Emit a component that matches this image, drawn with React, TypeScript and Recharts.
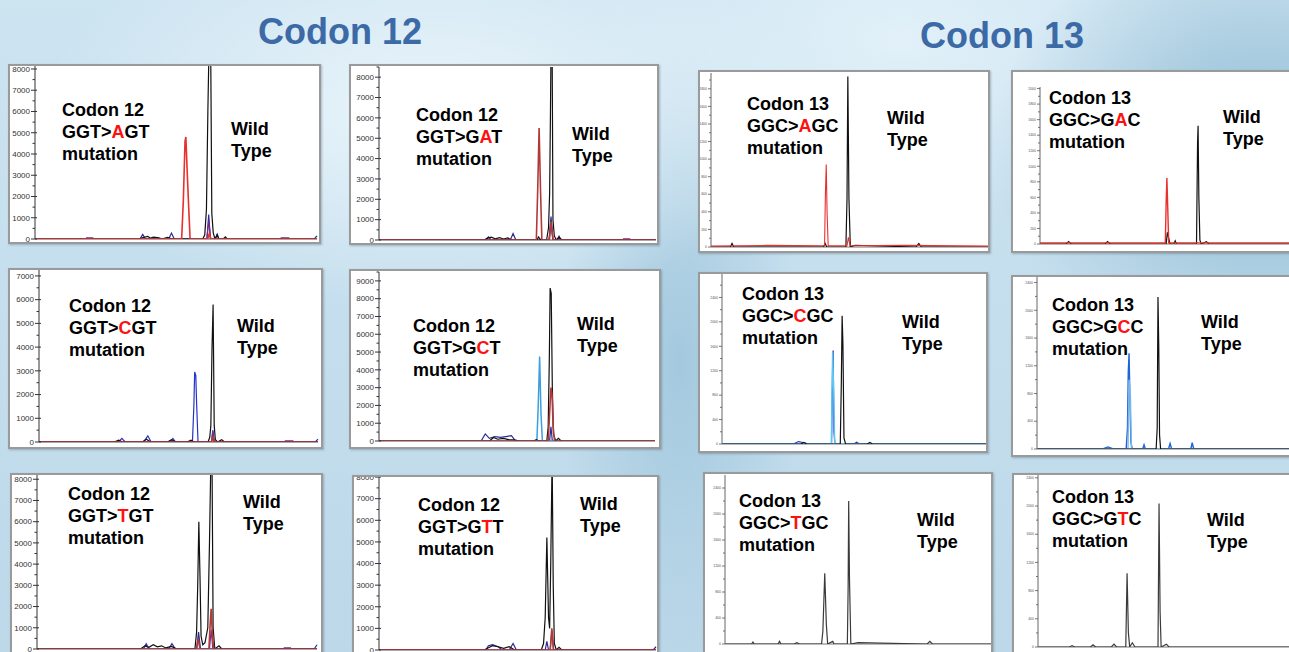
import React from 'react';
import { LineChart, Line, XAxis, YAxis, ReferenceLine } from 'recharts';

type Pt = [number, number];

// x = percent of run width, y = signal (RFU)

// Codon 12 GGT>AGT
const agtBlack: Pt[] = [[0,0],[37,0],[38,60],[40,120],[41,40],[42,90],[44,60],[45,0],[47,80],[48,30],[50,0],[59.5,0],[60.2,200],[60.8,1400],[61.3,6000],[61.7,9000],[62.3,9000],[62.7,1200],[63.2,300],[63.8,0],[64.6,200],[65.2,0],[66.8,0],[67.5,100],[68.2,0],[100,0]];
const agtRed: Pt[] = [[0,0],[52,0],[52.6,1800],[53.2,4600],[53.5,4800],[53.9,3400],[54.4,1800],[55,0],[61.2,0],[61.8,250],[62.4,0],[100,0]];
const agtBlue: Pt[] = [[0,0],[37.2,0],[38.2,220],[39.2,0],[47.4,0],[48.4,280],[49.4,0],[61,0],[61.6,1150],[62.2,0],[64,0],[64.6,220],[65.2,0],[99,0],[100,150]];
const agtPurple: Pt[] = [[0,0],[18,0],[18.3,60],[20.5,60],[20.8,0],[60.9,0],[61.6,850],[62.3,0],[87,0],[87.3,60],[90,60],[90.3,0],[100,0]];

// Codon 12 GGT>GAT
const gatBlack: Pt[] = [[0,0],[38,0],[39,80],[40.5,140],[42,60],[43.5,120],[45,50],[46.5,100],[48,0],[57,0],[57.6,150],[58.4,0],[60.5,0],[61.2,600],[61.6,2300],[61.9,6300],[62.1,9500],[62.5,9500],[62.8,1000],[63.3,200],[64,0],[65,150],[66,0],[100,0]];
const gatRed: Pt[] = [[0,0],[56.8,0],[57.3,2500],[57.8,5500],[58.3,2500],[58.8,0],[61.5,0],[62.1,900],[62.8,0],[100,0]];
const gatBlue: Pt[] = [[0,0],[38.5,0],[39.5,150],[40.5,0],[47.4,0],[48.4,320],[49.4,0],[61.4,0],[62.1,1150],[62.8,0],[64.5,0],[65,180],[65.5,0],[100,0]];
const gatPurple: Pt[] = [[0,0],[61.4,0],[62.1,900],[62.8,0],[88,0],[88.3,60],[90.5,60],[90.8,0],[100,0]];

// Codon 12 GGT>CGT
const cgtBlack: Pt[] = [[0,0],[27,0],[28.5,80],[30,0],[37,0],[38.5,120],[40,0],[46,0],[47.5,100],[49,0],[53,0],[54.5,80],[55.5,0],[60.6,0],[61.2,200],[61.6,700],[62,3900],[62.4,5800],[62.8,700],[63.2,100],[64,0],[65.5,100],[66.5,0],[100,0]];
const cgtBlue: Pt[] = [[0,0],[28.5,0],[29.7,150],[30.9,0],[37.5,0],[39,260],[40.2,0],[47,0],[48,150],[49,0],[55,0],[55.5,1500],[55.8,2950],[56.2,2800],[56.5,1600],[57,0],[61.8,0],[62.3,500],[62.8,0],[99,0],[100,120]];
const cgtRed: Pt[] = [[0,0],[61.8,0],[62.3,250],[62.8,0],[100,0]];
const cgtPurple: Pt[] = [[0,0],[61.9,0],[62.3,450],[62.7,0],[88,0],[88.3,50],[91,50],[91.3,0],[100,0]];

// Codon 12 GGT>GCT
const gctBlack: Pt[] = [[0,0],[40,0],[41.5,200],[43,100],[45,150],[47,80],[49,60],[51,0],[56,0],[57,80],[58,0],[60.8,0],[61.3,800],[61.7,4500],[62,8600],[62.4,8300],[62.8,3000],[63.2,400],[64,0],[65,150],[66,0],[100,0]];
const gctLightBlue: Pt[] = [[0,0],[57.2,0],[57.7,2000],[58.2,4750],[58.7,1500],[59.2,0],[100,0]];
const gctRed: Pt[] = [[0,0],[61.3,0],[61.8,1500],[62.3,3000],[62.7,2600],[63.1,800],[63.6,0],[100,0]];
const gctNavy: Pt[] = [[0,0],[37,0],[38.5,400],[40,150],[42,250],[44,200],[46,250],[48,300],[49.5,0],[61.8,0],[62.3,800],[62.8,0],[100,0]];

// Codon 12 GGT>TGT
const tgtBlack: Pt[] = [[0,0],[37,0],[38.5,150],[40,80],[41.5,200],[43,100],[44.5,150],[46,50],[48,120],[50,0],[56.4,0],[57,800],[57.4,3000],[57.8,6000],[58.2,3500],[58.6,600],[59.2,200],[60,300],[61,1000],[61.6,5000],[62.1,9000],[62.5,9000],[62.9,1000],[63.5,0],[65,150],[66,0],[100,0]];
const tgtRed: Pt[] = [[0,0],[57,0],[57.6,500],[58.2,0],[61.4,0],[61.9,1300],[62.2,1900],[62.6,800],[63.1,0],[100,0]];
const tgtBlue: Pt[] = [[0,0],[38,0],[39,250],[40,0],[47,0],[48.2,250],[49.4,0],[57,0],[57.7,800],[58.4,0],[99,0],[100,200]];
const tgtPurple: Pt[] = [[0,0],[61.6,0],[62.2,900],[62.8,0],[88,0],[88.3,60],[90.5,60],[90.8,0],[100,0]];

// Codon 12 GGT>GTT
const gttBlack: Pt[] = [[0,0],[38,0],[39.5,100],[41,200],[43,150],[45,80],[47,150],[49,0],[58.6,0],[59.4,300],[60,1500],[60.6,5200],[61.2,1500],[61.6,1000],[62,4000],[62.5,9000],[62.9,3000],[63.3,300],[64,0],[65,120],[66,0],[100,0]];
const gttRed: Pt[] = [[0,0],[61.8,0],[62.4,1000],[63,0],[100,0]];
const gttBlue: Pt[] = [[0,0],[38.5,0],[39.5,200],[41,250],[43,150],[44.5,0],[47,0],[48.4,300],[49.6,0],[60,0],[60.6,400],[61.2,0],[99,0],[100,150]];
const gttPurple: Pt[] = [[0,0],[61.8,0],[62.4,900],[63,0],[100,0]];

// Codon 13 GGC>AGC
const agcBlack: Pt[] = [[0,0],[7,0],[7.6,40],[8.2,0],[40.6,0],[41.2,40],[41.8,0],[48.7,0],[49.1,550],[49.4,1940],[49.8,550],[50.3,0],[52,20],[74,0],[75,40],[76,0],[100,0]];
const agcRed: Pt[] = [[0,12],[20,18],[41,15],[41.3,600],[41.6,940],[41.9,400],[42.3,15],[49.1,15],[49.6,110],[50.2,15],[70,18],[100,12]];

// Codon 13 GGC>GAC
const gacBlack: Pt[] = [[0,0],[10,0],[11,30],[12,0],[25,0],[26,30],[27,0],[48.5,0],[49,150],[49.6,60],[50,0],[51.5,0],[52,40],[52.5,0],[60.2,0],[60.6,1300],[60.8,1520],[61.1,600],[61.5,50],[62,0],[64,30],[65,0],[100,0]];
const gacRed: Pt[] = [[0,15],[48.2,15],[48.5,500],[48.8,850],[49.1,500],[49.5,15],[100,15]];

// Codon 13 GGC>CGC
const cgcBlack: Pt[] = [[0,0],[30,0],[31,25],[32,0],[44.8,0],[45.2,1000],[45.5,2100],[45.8,1650],[46.2,100],[46.8,0],[55,0],[56,25],[57,0],[100,0]];
const cgcBlue: Pt[] = [[0,0],[27,0],[29,40],[31,20],[33,0],[41.5,0],[41.9,1300],[42.1,1530],[42.4,200],[42.8,0],[50,0],[51,30],[52,0],[100,0]];
const cgcCyan: Pt[] = [[0,0],[41.4,0],[41.9,1500],[42.3,900],[42.7,0],[100,0]];

// Codon 13 GGC>GCC
const gccBlue: Pt[] = [[0,0],[25,0],[27,30],[29,0],[33.9,0],[34.4,300],[34.7,1100],[35,1380],[35.3,800],[35.7,100],[36.2,0],[40.2,0],[40.7,60],[41.2,0],[50,0],[50.6,80],[51.2,0],[58.5,0],[59,90],[59.6,0],[100,0]];
const gccLightBlue: Pt[] = [[0,0],[34.6,0],[35,1000],[35.5,800],[35.9,0],[100,0]];
const gccBlack: Pt[] = [[0,0],[45.3,0],[45.7,300],[46,2190],[46.3,1470],[46.6,200],[47,0],[100,0]];

// Codon 13 GGC>TGC
const tgcGrey: Pt[] = [[0,0],[10,0],[10.5,30],[11,0],[20,0],[20.5,40],[21,0],[26,0],[27,20],[28,0],[36.3,0],[36.8,200],[37.5,1090],[38.1,300],[38.6,0],[40.5,40],[41,0],[46,0],[46.3,900],[46.5,2200],[46.8,1000],[47.3,0],[50,20],[76,0],[77,40],[78,0],[100,0]];

// Codon 13 GGC>GTC
const gtcGrey: Pt[] = [[0,0],[12,0],[13,20],[14,0],[20,0],[21,30],[22,0],[28,0],[29,40],[30,0],[33.5,0],[34,1046],[34.5,200],[35,0],[36,60],[37,0],[45.8,0],[46.2,2035],[46.6,500],[47,0],[49,40],[50,0],[100,0]];

// y tick values
const ticks7000 = [0,500,1000,1500,2000,2500,3000,3500,4000,4500,5000,5500,6000,6500,7000];
const ticks8000 = [0,500,1000,1500,2000,2500,3000,3500,4000,4500,5000,5500,6000,6500,7000,7500,8000];
const ticks8500 = [...ticks8000, 8500];
const ticks9500 = [...ticks8000, 8500, 9000, 9500];
const ticks1900 = [0,100,200,300,400,500,600,700,800,900,1000,1100,1200,1300,1400,1500,1600,1700,1800,1900];
const ticks2000 = [...ticks1900, 2000];
const ticks2400 = [0,200,400,600,800,1000,1200,1400,1600,1800,2000,2200,2400];
const ticks2800 = [...ticks2400, 2600, 2800];

// mutation labels
const mutations = [
  { codon: 'Codon 12', pre: 'GGT>', alt: 'A', post: 'GT' },
  { codon: 'Codon 12', pre: 'GGT>G', alt: 'A', post: 'T' },
  { codon: 'Codon 12', pre: 'GGT>', alt: 'C', post: 'GT' },
  { codon: 'Codon 12', pre: 'GGT>G', alt: 'C', post: 'T' },
  { codon: 'Codon 12', pre: 'GGT>', alt: 'T', post: 'GT' },
  { codon: 'Codon 12', pre: 'GGT>G', alt: 'T', post: 'T' },
  { codon: 'Codon 13', pre: 'GGC>', alt: 'A', post: 'GC' },
  { codon: 'Codon 13', pre: 'GGC>G', alt: 'A', post: 'C' },
  { codon: 'Codon 13', pre: 'GGC>', alt: 'C', post: 'GC' },
  { codon: 'Codon 13', pre: 'GGC>G', alt: 'C', post: 'C' },
  { codon: 'Codon 13', pre: 'GGC>', alt: 'T', post: 'GC' },
  { codon: 'Codon 13', pre: 'GGC>G', alt: 'T', post: 'C' },
];

const BLACK = '#111';
const RED = '#e8302c';
const DARKRED = '#b03a3a';
const BLUE = '#2233c8';
const NAVY = '#2a2a9a';
const PURPLE = '#7a2a8a';
const LIGHTBLUE = '#3c9ee0';
const CYAN = '#5cc8f2';
const GREY = '#3a3a3a';

interface Series { pts: Pt[]; color: string; w?: number }
interface PanelCfg {
  box: [number, number, number, number];
  plot: [number, number, number, number];
  yMax: number;
  ticks: number[];
  major: number;
  small: boolean;
  series: Series[];
  text: [number, number];
  wild: [number, number];
}

const panels: PanelCfg[] = [
  { box: [8,64,321,244], plot: [35,66,317,239], yMax: 8140, ticks: ticks8000, major: 1000, small: false,
    series: [{ pts: agtBlue, color: NAVY }, { pts: agtPurple, color: PURPLE }, { pts: agtBlack, color: BLACK }, { pts: agtRed, color: RED, w: 1.6 }],
    text: [62,103], wild: [231,122] },
  { box: [349,64,659,245], plot: [379,67,656,240], yMax: 8500, ticks: ticks8500, major: 1000, small: false,
    series: [{ pts: gatBlue, color: NAVY }, { pts: gatPurple, color: PURPLE }, { pts: gatBlack, color: BLACK }, { pts: gatRed, color: DARKRED, w: 1.6 }],
    text: [416,108], wild: [572,127] },
  { box: [8,268,323,449], plot: [39,270,318,442], yMax: 7250, ticks: ticks7000, major: 1000, small: false,
    series: [{ pts: cgtBlue, color: BLUE }, { pts: cgtPurple, color: PURPLE }, { pts: cgtBlack, color: BLACK }, { pts: cgtRed, color: DARKRED, w: 1.6 }],
    text: [69,299], wild: [237,319] },
  { box: [349,269,661,449], plot: [379,272,655,441], yMax: 9500, ticks: ticks9500, major: 1000, small: false,
    series: [{ pts: gctNavy, color: NAVY }, { pts: gctLightBlue, color: LIGHTBLUE, w: 1.5 }, { pts: gctBlack, color: BLACK }, { pts: gctRed, color: DARKRED, w: 1.6 }],
    text: [413,319], wild: [577,317] },
  { box: [10,473,323,660], plot: [37,475,317,649], yMax: 8200, ticks: ticks8000, major: 1000, small: false,
    series: [{ pts: tgtBlue, color: NAVY }, { pts: tgtPurple, color: PURPLE }, { pts: tgtBlack, color: BLACK }, { pts: tgtRed, color: DARKRED, w: 1.6 }],
    text: [68,487], wild: [243,495] },
  { box: [352,475,659,660], plot: [379,476,656,650], yMax: 8050, ticks: ticks8000, major: 1000, small: false,
    series: [{ pts: gttBlue, color: NAVY }, { pts: gttPurple, color: PURPLE }, { pts: gttBlack, color: BLACK }, { pts: gttRed, color: DARKRED, w: 1.6 }],
    text: [418,498], wild: [580,497] },
  { box: [698,70,990,253], plot: [711,73,988,247], yMax: 1980, ticks: ticks1900, major: 200, small: true,
    series: [{ pts: agcBlack, color: BLACK }, { pts: agcRed, color: RED, w: 1.1 }],
    text: [747,97], wild: [887,111] },
  { box: [1011,70,1303,253], plot: [1040,87,1300,244], yMax: 2020, ticks: ticks2000, major: 200, small: true,
    series: [{ pts: gacBlack, color: BLACK }, { pts: gacRed, color: RED, w: 1.4 }],
    text: [1049,91], wild: [1223,110] },
  { box: [698,272,988,453], plot: [722,273,986,444], yMax: 2800, ticks: ticks2800, major: 400, small: true,
    series: [{ pts: cgcBlue, color: BLUE }, { pts: cgcCyan, color: CYAN, w: 1.4 }, { pts: cgcBlack, color: BLACK }],
    text: [742,287], wild: [902,315] },
  { box: [1011,275,1303,457], plot: [1037,277,1300,449], yMax: 2480, ticks: ticks2400, major: 400, small: true,
    series: [{ pts: gccBlue, color: '#1e64d8', w: 1.4 }, { pts: gccLightBlue, color: '#7ab8ec', w: 1.4 }, { pts: gccBlack, color: BLACK }],
    text: [1052,298], wild: [1201,315] },
  { box: [703,472,993,660], plot: [725,475,991,644], yMax: 2600, ticks: ticks2400, major: 400, small: true,
    series: [{ pts: tgcGrey, color: GREY, w: 1.2 }],
    text: [739,494], wild: [917,513] },
  { box: [1012,473,1303,660], plot: [1038,475,1300,647], yMax: 2440, ticks: ticks2400, major: 400, small: true,
    series: [{ pts: gtcGrey, color: GREY, w: 1.2 }],
    text: [1052,490], wild: [1207,513] },
];

const FONT = '"Liberation Sans", Arial, sans-serif';

function makeTick(axisX: number, major: number, small: boolean) {
  return (props: any) => {
    const { y, payload } = props;
    const v = payload.value as number;
    const isMajor = v % major === 0;
    const col = small ? '#555' : '#333';
    return (
      <g>
        <line x1={axisX - (isMajor ? (small ? 3 : 4) : (small ? 2 : 2.5))} x2={axisX + (isMajor && !small ? 2 : 0)} y1={y} y2={y} stroke={col} strokeWidth={small ? 0.8 : 1} />
        {isMajor && (
          <text x={axisX - (small ? 4 : 5)} y={y} dy="0.35em" textAnchor="end" fontSize={small ? 3.5 : 8} fill={col} fontFamily={FONT}>
            {v}
          </text>
        )}
      </g>
    );
  };
}

function Panel({ cfg }: { cfg: PanelCfg }) {
  const [bl, bt, br, bb] = cfg.box;
  const [pl, pt, pr, pb] = cfg.plot;
  const w = br - bl;
  const h = bb - bt;
  const axisW = pl - (bl + 2);
  return (
    <div style={{ position: 'absolute', left: bl, top: bt, width: w, height: h, boxSizing: 'border-box', border: '2px solid #9a9a9a', background: '#fff', boxShadow: '1px 1px 2px rgba(60,80,100,0.35)' }}>
      <LineChart
        width={w - 4}
        height={h - 4}
        style={{ overflow: 'visible' }}
        margin={{ top: pt - (bt + 2), right: br - 2 - pr, bottom: bb - 2 - pb, left: 0 }}
      >
        <XAxis type='number' dataKey='x' domain={[0, 100]} hide />
        <YAxis
          type='number'
          domain={[0, cfg.yMax]}
          allowDataOverflow
          ticks={cfg.ticks}
          interval={0}
          width={axisW}
          tickLine={false}
          axisLine={{ stroke: cfg.small ? '#666' : '#333', strokeWidth: 1 }}
          tick={makeTick(axisW, cfg.major, cfg.small)}
        />
        <ReferenceLine y={0} stroke={cfg.small ? '#777' : '#555'} strokeWidth={1} />
        {cfg.series.map((s, i) => (
          <Line
            key={i}
            data={s.pts.map(([x, y]) => ({ x, y }))}
            dataKey='y'
            type='linear'
            stroke={s.color}
            strokeWidth={s.w ?? 1.2}
            dot={false}
            isAnimationActive={false}
          />
        ))}
      </LineChart>
    </div>
  );
}

const textStyle: React.CSSProperties = {
  position: 'absolute',
  fontFamily: FONT,
  fontWeight: 'bold',
  fontSize: 18,
  lineHeight: '22px',
  color: '#000',
  whiteSpace: 'nowrap',
};

export default function App() {
  return (
    <div
      style={{
        position: 'absolute',
        left: 0,
        top: 0,
        width: 1289,
        height: 652,
        overflow: 'hidden',
        background:
          'radial-gradient(ellipse 520px 260px at 430px 110px, rgba(236,246,252,0.95), rgba(236,246,252,0) 75%),' +
          'radial-gradient(ellipse 360px 300px at 1260px 150px, rgba(130,178,205,0.8), rgba(130,178,205,0) 75%),' +
          'radial-gradient(ellipse 160px 420px at 680px 360px, rgba(150,192,216,0.7), rgba(150,192,216,0) 75%),' +
          'radial-gradient(ellipse 420px 240px at 900px 40px, rgba(228,242,250,0.9), rgba(228,242,250,0) 75%),' +
          'linear-gradient(180deg, #cde4f1 0%, #bcd8e9 100%)',
      }}
    >
      <div style={{ position: 'absolute', left: 140, width: 400, top: 14, textAlign: 'center', fontFamily: FONT, fontWeight: 'bold', fontSize: 36, lineHeight: '36px', color: '#3b6aa6' }}>
        Codon 12
      </div>
      <div style={{ position: 'absolute', left: 802, width: 400, top: 18, textAlign: 'center', fontFamily: FONT, fontWeight: 'bold', fontSize: 36, lineHeight: '36px', color: '#3b6aa6' }}>
        Codon 13
      </div>
      {panels.map((p, i) => (
        <Panel key={i} cfg={p} />
      ))}
      {panels.map((p, i) => {
        const m = mutations[i];
        return (
          <React.Fragment key={'t' + i}>
            <div style={{ ...textStyle, left: p.text[0], top: p.text[1] - 4 }}>
              <div>{m.codon}</div>
              <div>
                {m.pre}
                <span style={{ color: '#ff1010' }}>{m.alt}</span>
                {m.post}
              </div>
              <div>mutation</div>
            </div>
            <div style={{ ...textStyle, left: p.wild[0], top: p.wild[1] - 4 }}>
              <div>Wild</div>
              <div>Type</div>
            </div>
          </React.Fragment>
        );
      })}
    </div>
  );
}
